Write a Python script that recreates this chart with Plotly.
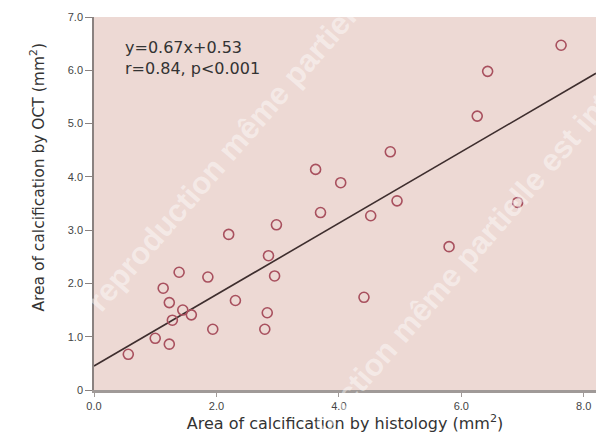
import plotly.graph_objects as go

x_hist = [0.56, 1.00, 1.23, 1.13, 1.23, 1.28, 1.39, 1.45, 1.59, 1.86, 1.94, 2.31,
          2.20, 2.79, 2.83, 2.85, 2.95, 2.98, 3.62, 3.70, 4.03, 4.41, 4.52, 4.84,
          4.95, 5.80, 6.26, 6.43, 6.92, 7.63]
y_oct = [0.67, 0.97, 0.86, 1.91, 1.64, 1.31, 2.21, 1.50, 1.41, 2.12, 1.14, 1.68,
         2.92, 1.14, 1.45, 2.52, 2.14, 3.10, 4.14, 3.33, 3.89, 1.74, 3.27, 4.47,
         3.55, 2.69, 5.14, 5.98, 3.52, 6.47]
slope, intercept = 0.67, 0.45
line_x = [0.0, 8.2]
line_y = [slope * v + intercept for v in line_x]

x_ticks = [0, 2, 4, 6, 8]
x_tick_text = ["0.0", "2.0", "4.0", "6.0", "8.0"]
y_ticks = [0, 1, 2, 3, 4, 5, 6, 7]
y_tick_text = ["0", "1.0", "2.0", "3.0", "4.0", "5.0", "6.0", "7.0"]

fig = go.Figure()
fig.add_trace(go.Scatter(x=line_x, y=line_y, mode="lines",
                         line=dict(color="#3e2e2e", width=1.6), hoverinfo="skip"))
fig.add_trace(go.Scatter(x=x_hist, y=y_oct, mode="markers",
                         marker=dict(symbol="circle-open", size=10,
                                     line=dict(color="#a8505e", width=1.6),
                                     color="#a8505e")))

wm = dict(color="rgba(255,255,255,0.45)", size=31, family="Liberation Sans")
wm_text = "<b>reproduction même partielle est interdite</b>"
fig.add_annotation(text=wm_text, xref="paper", yref="paper",
                   x=0.392, y=0.832, xanchor="center", yanchor="middle",
                   showarrow=False, textangle=-49, font=wm)
fig.add_annotation(text=wm_text, xref="paper", yref="paper",
                   x=0.735, y=0.345, xanchor="center", yanchor="middle",
                   showarrow=False, textangle=-49, font=wm)

fig.add_annotation(text="y=0.67x+0.53<br>r=0.84, p<0.001", xref="paper", yref="paper",
                   x=0.058, y=0.95, xanchor="left", yanchor="top", align="left",
                   showarrow=False, font=dict(size=16, color="#333333", family="DejaVu Sans"))

fig.add_annotation(text="Area of calcification by OCT (mm<sup>2</sup>)", xref="paper", yref="paper",
                   x=-0.1116, y=0.572, xanchor="center", yanchor="middle", textangle=-90,
                   showarrow=False, font=dict(size=15.5, color="#333333", family="DejaVu Sans"))

fig.update_layout(
    width=601, height=435,
    margin=dict(l=94, r=5, t=17, b=45),
    paper_bgcolor="white", plot_bgcolor="#edd9d4",
    showlegend=False,
    font=dict(family="Liberation Sans", color="#333333"),
)
fig.update_xaxes(range=[0, 8.2], tickvals=x_ticks, ticktext=x_tick_text,
                 showgrid=False, zeroline=False, showline=True, linecolor="#a09a98", linewidth=3,
                 ticks="outside", ticklen=4, tickcolor="#a09a98",
                 tickfont=dict(size=11, color="#444444"),
                 title=dict(text="Area of calcification by histology (mm<sup>2</sup>)",
                            font=dict(size=16, color="#333333", family="DejaVu Sans"),
                            standoff=0))
fig.update_yaxes(range=[0, 7.0], tickvals=y_ticks, ticktext=y_tick_text,
                 showgrid=False, zeroline=False, showline=True, linecolor="#8a8280", linewidth=1.5,
                 ticks="outside", ticklen=7, tickcolor="#8a8280",
                 tickfont=dict(size=11, color="#444444"))

fig.write_html("out.html")
